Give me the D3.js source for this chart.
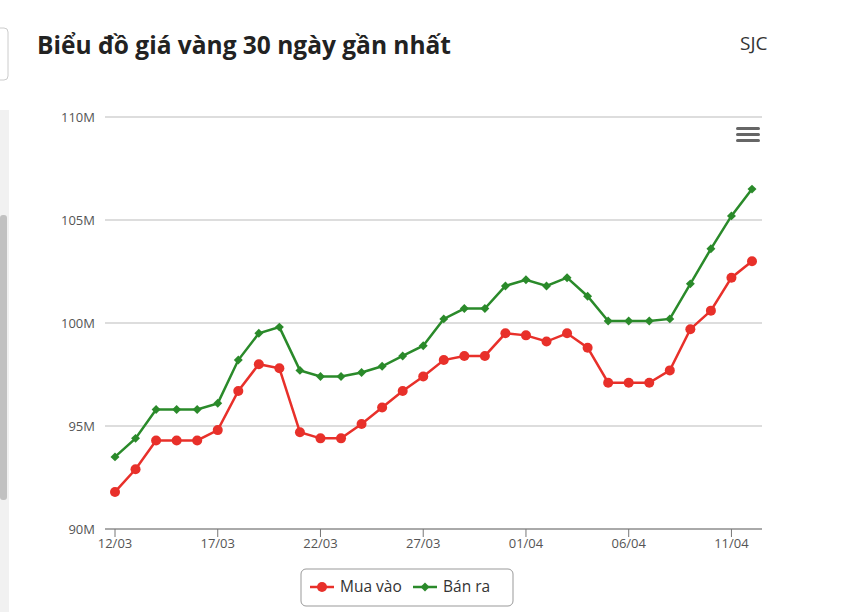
<!DOCTYPE html>
<html><head><meta charset="utf-8">
<script src="https://cdn.jsdelivr.net/npm/d3@7"></script>
<style>body{margin:0;background:#fff;font-family:"Open Sans",Roboto,sans-serif}</style>
</head><body><svg id="c" width="842" height="612"></svg>
<script>
const dates=["12/03","13/03","14/03","15/03","16/03","17/03","18/03","19/03","20/03","21/03","22/03","23/03","24/03","25/03","26/03","27/03","28/03","29/03","30/03","31/03","01/04","02/04","03/04","04/04","05/04","06/04","07/04","08/04","09/04","10/04","11/04","12/04"];
const muaVao=[91.8,92.9,94.3,94.3,94.3,94.8,96.7,98.0,97.8,94.7,94.4,94.4,95.1,95.9,96.7,97.4,98.2,98.4,98.4,99.5,99.4,99.1,99.5,98.8,97.1,97.1,97.1,97.7,99.7,100.6,102.2,103.0];
const banRa=[93.5,94.4,95.8,95.8,95.8,96.1,98.2,99.5,99.8,97.7,97.4,97.4,97.6,97.9,98.4,98.9,100.2,100.7,100.7,101.8,102.1,101.8,102.2,101.3,100.1,100.1,100.1,100.2,101.9,103.6,105.2,106.5];
const yTicks=[90,95,100,105,110];
const xTickLabels=["12/03","17/03","22/03","27/03","01/04","06/04","11/04"];
const svg=d3.select("#c");
svg.append("rect").attr("x",0).attr("y",110).attr("width",9).attr("height",502).attr("fill","#f1f1f1");
svg.append("rect").attr("x",0).attr("y",215).attr("width",7).attr("height",285).attr("fill","#c1c1c1").attr("rx",3);
svg.append("rect").attr("x",-6).attr("y",28).attr("width",14).attr("height",52).attr("fill","none").attr("stroke","#ccc").attr("rx",4);
svg.append("text").attr("x",37).attr("y",54).text("Biểu đồ giá vàng 30 ngày gần nhất").attr("font-size",24.5).attr("font-weight","bold").attr("fill","#222");
svg.append("text").attr("x",740).attr("y",50).text("SJC").attr("font-size",19).attr("fill","#333");
const x=d3.scalePoint().domain(dates).range([115,752]);
const y=d3.scaleLinear().domain([90,110]).range([529,117]);
const g=svg.append("g");
yTicks.forEach(t=>{g.append("line").attr("x1",105).attr("x2",762).attr("y1",y(t)).attr("y2",y(t)).attr("stroke","#bbb");
g.append("text").attr("x",95).attr("y",y(t)+5).attr("text-anchor","end").attr("font-size",13).attr("fill","#555").text(t+"M");});
g.append("line").attr("x1",105).attr("x2",762).attr("y1",529).attr("y2",529).attr("stroke","#777");
xTickLabels.forEach(d=>{g.append("line").attr("x1",x(d)).attr("x2",x(d)).attr("y1",529).attr("y2",537).attr("stroke","#777");
g.append("text").attr("x",x(d)).attr("y",548).attr("text-anchor","middle").attr("font-size",13).attr("fill","#555").text(d);});
const line=d3.line().x((d,i)=>x(dates[i])).y(d=>y(d));
g.append("path").datum(muaVao).attr("d",line).attr("fill","none").attr("stroke","#e8302a").attr("stroke-width",2.5);
g.append("path").datum(banRa).attr("d",line).attr("fill","none").attr("stroke","#2a8a2a").attr("stroke-width",2.5);
g.selectAll(".m").data(muaVao).enter().append("circle").attr("cx",(d,i)=>x(dates[i])).attr("cy",d=>y(d)).attr("r",5).attr("fill","#e8302a");
const dia=d3.symbol().type(d3.symbolSquare).size(40);
g.selectAll(".b").data(banRa).enter().append("path").attr("d",dia).attr("transform",(d,i)=>`translate(${x(dates[i])},${y(d)}) rotate(45)`).attr("fill","#2a8a2a");
[127,133,139].forEach(yy=>svg.append("rect").attr("x",736).attr("y",yy).attr("width",24).attr("height",3).attr("rx",1.5).attr("fill","#666"));
svg.append("rect").attr("x",301).attr("y",569).attr("width",212).attr("height",37).attr("rx",5).attr("fill","#fff").attr("stroke","#999");
svg.append("line").attr("x1",310).attr("x2",334).attr("y1",587).attr("y2",587).attr("stroke","#e8302a").attr("stroke-width",2.5);
svg.append("circle").attr("cx",322).attr("cy",587).attr("r",5).attr("fill","#e8302a");
svg.append("text").attr("x",340).attr("y",592).text("Mua vào").attr("font-size",15.5).attr("fill","#333");
svg.append("line").attr("x1",413).attr("x2",437).attr("y1",587).attr("y2",587).attr("stroke","#2a8a2a").attr("stroke-width",2.5);
svg.append("path").attr("d",dia).attr("transform","translate(425,587) rotate(45)").attr("fill","#2a8a2a");
svg.append("text").attr("x",443).attr("y",592).text("Bán ra").attr("font-size",15.5).attr("fill","#333");
</script></body></html>
